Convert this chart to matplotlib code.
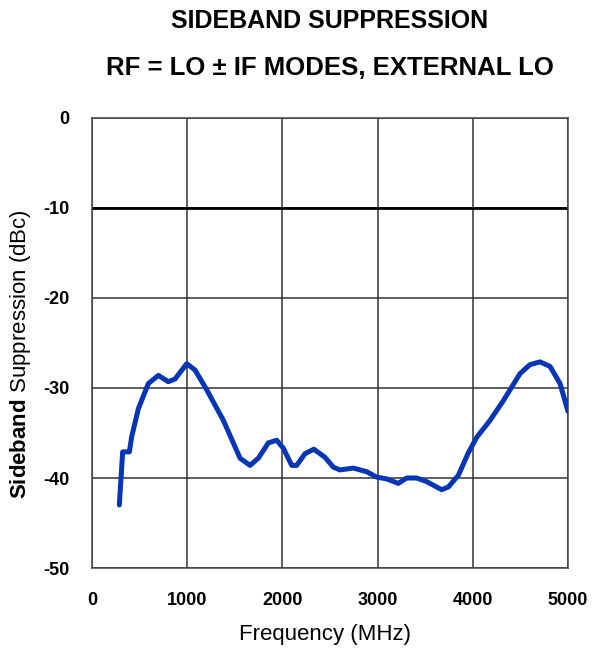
import matplotlib.pyplot as plt

# Curve (MHz, dBc)
freq_mhz = [287, 322, 392, 417, 487, 592, 697, 802, 872, 995, 1082, 1205, 1380,
            1555, 1660, 1747, 1852, 1940, 2010, 2098, 2150, 2237, 2330, 2447,
            2535, 2605, 2745, 2885, 2990, 3095, 3218, 3305, 3410, 3515, 3673,
            3743, 3848, 3953, 4040, 4181, 4321, 4391, 4496, 4601, 4706, 4811,
            4916, 5000]
suppression_dbc = [-43.0, -37.1, -37.1, -35.4, -32.3, -29.5, -28.6, -29.3, -29.0,
                   -27.3, -28.0, -30.2, -33.6, -37.8, -38.6, -37.8, -36.1, -35.8,
                   -36.7, -38.6, -38.6, -37.3, -36.8, -37.7, -38.8, -39.1, -38.9,
                   -39.3, -39.9, -40.1, -40.6, -40.0, -40.0, -40.4, -41.3, -41.0,
                   -39.7, -37.2, -35.5, -33.6, -31.4, -30.2, -28.4, -27.4, -27.1,
                   -27.6, -29.5, -32.6]

x_ticks = [0, 1000, 2000, 3000, 4000, 5000]
y_ticks = [0, -10, -20, -30, -40, -50]

plt.rcParams['font.family'] = ['Liberation Sans', 'DejaVu Sans']
plt.rcParams['axes.unicode_minus'] = False
plt.rcParams['mathtext.fontset'] = 'custom'
plt.rcParams['mathtext.rm'] = 'Liberation Sans'
plt.rcParams['mathtext.bf'] = 'Liberation Sans:bold'

fig = plt.figure(figsize=(6.01, 6.49), dpi=100)
ax = fig.add_axes([0.1531, 0.1248, 0.792, 0.6934])

ax.plot(freq_mhz, suppression_dbc, color='#0635b5', linewidth=3.6,
        solid_capstyle='round', solid_joinstyle='round', zorder=3)

ax.set_xlim(0, 5000)
ax.set_ylim(-50, 0)
ax.set_xticks(x_ticks)
ax.set_yticks(y_ticks)
ax.grid(True, color='#333333', linewidth=1.1)
ax.axhline(-10, color='black', linewidth=2.0, zorder=2)
for s in ax.spines.values():
    s.set_color('#444444')
    s.set_linewidth(1.1)

ax.tick_params(length=0, labelsize=13)
ax.tick_params(axis='x', pad=17)
ax.tick_params(axis='y', pad=16)
for lbl in ax.get_xticklabels() + ax.get_yticklabels():
    lbl.set_fontweight('bold')

ax.set_xlabel('Frequency (MHz)', fontsize=16)
ax.set_ylabel(r'$\mathbf{Sideband}$ Suppression (dBc)', fontsize=16)
ax.xaxis.set_label_coords(0.49, -0.125)
ax.yaxis.set_label_coords(-0.125, 0.475)

fig.text(0.549, 0.968, 'SIDEBAND SUPPRESSION', ha='center', va='center',
         fontsize=18, fontweight='bold')
fig.text(0.549, 0.895, 'RF = LO \u00b1 IF MODES, EXTERNAL LO', ha='center',
         va='center', fontsize=18.5, fontweight='bold')

fig.savefig('out.png', dpi=100)
